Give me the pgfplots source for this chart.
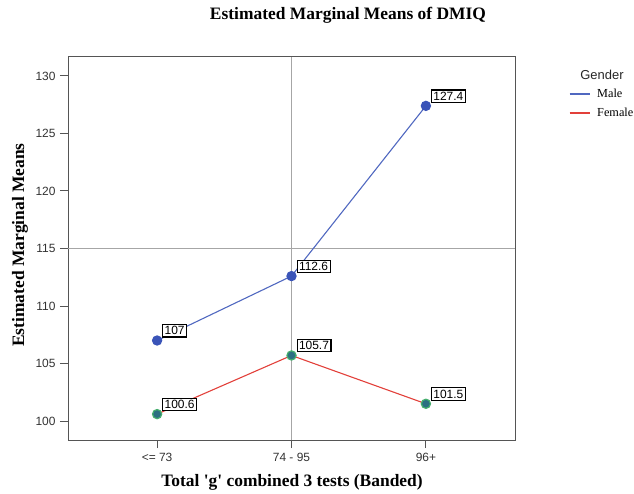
\documentclass[border=0pt]{standalone}
\usepackage{pgfplots}
\pgfplotsset{compat=1.18}
\usepackage{fontspec}
\setmainfont{Liberation Serif}
\newfontfamily\arial{Liberation Sans}

\definecolor{maleline}{RGB}{80,104,192}
\definecolor{malemark}{RGB}{58,84,184}
\definecolor{femline}{RGB}{226,64,58}
\definecolor{femfill}{RGB}{44,112,130}
\definecolor{femedge}{RGB}{70,175,110}
\definecolor{frame}{RGB}{85,85,85}

\begin{document}
\begin{tikzpicture}
% fixed page frame
\path[use as bounding box] (-68bp,-54bp) rectangle (566bp,440bp);
\begin{axis}[
  at={(0,0)}, anchor=south west,
  scale only axis,
  width=447bp, height=383bp,
  xmin=-0.663, xmax=2.663,
  ymin=98.35, ymax=131.65,
  xtick={0,1,2},
  xticklabels={{<= 73},{74 - 95},{96+}},
  ytick={100,105,...,130},
  axis line style={draw=frame, line width=1bp},
  tick style={draw=frame, line width=1bp},
  tick align=outside,
  xtick pos=bottom, ytick pos=left,
  major tick length=8bp,
  /pgf/number format/assume math mode=true,
  ticklabel style={font=\arial\fontsize{12}{14}\selectfont, text=black!80},
  xticklabel style={yshift=-2bp},
  yticklabel style={xshift=-1bp},
  clip=false,
  legend style={
    at={(1.12,0.922)}, anchor=north west,
    draw=none, fill=none,
    font=\fontsize{12.3}{15}\selectfont,
    row sep=5bp, inner sep=0pt,
    /tikz/every odd column/.append style={column sep=5bp},
  },
  legend cell align=left,
  legend image code/.code={\draw[line width=1.4bp, #1] (0bp,0bp) -- (20bp,0bp);},
  nodes near coords,
  point meta=explicit,
  nodes near coords style={
    font=\arial\fontsize{12}{13}\selectfont, text=black,
    anchor=south west, xshift=5bp, yshift=3bp,
    draw=black, line width=1.1bp, fill=white,
    inner sep=2bp,
    /pgf/number format/fixed, /pgf/number format/precision=1,
  },
]
% reference lines at the middle band and y = 115
\draw[gray!70, line width=0.8bp] (axis cs:1,98.35) -- (axis cs:1,131.65);
\draw[gray!70, line width=0.8bp] (axis cs:-0.663,115) -- (axis cs:2.663,115);

\addplot[forget plot, color=maleline, line width=1.1bp,
  mark=*, mark size=4.6bp, mark options={fill=malemark, draw=malemark}]
  table[meta=y] {
    x y
    0 107
    1 112.6
    2 127.4
  };

\addplot[forget plot, color=femline, line width=1.1bp,
  mark=*, mark size=4.6bp, mark options={fill=femfill, draw=femedge, line width=1.2bp}]
  table[meta=y] {
    x y
    0 100.6
    1 105.7
    2 101.5
  };

\addlegendimage{color=maleline}
\addlegendentry{Male}
\addlegendimage{color=femline}
\addlegendentry{Female}
\end{axis}

\node[font=\bfseries\fontsize{17.5}{20}\selectfont] at (280bp,425bp) {Estimated Marginal Means of DMIQ};
\node[font=\bfseries\fontsize{17.5}{20}\selectfont] at (224bp,-42bp) {Total \textquotesingle g\textquotesingle{} combined 3 tests (Banded)};
\node[font=\bfseries\fontsize{17.5}{20}\selectfont, rotate=90] at (-48bp,195bp) {Estimated Marginal Means};
\node[font=\arial\fontsize{13}{15}\selectfont, text=black!85] at (534bp,365bp) {Gender};
\end{tikzpicture}
\end{document}
